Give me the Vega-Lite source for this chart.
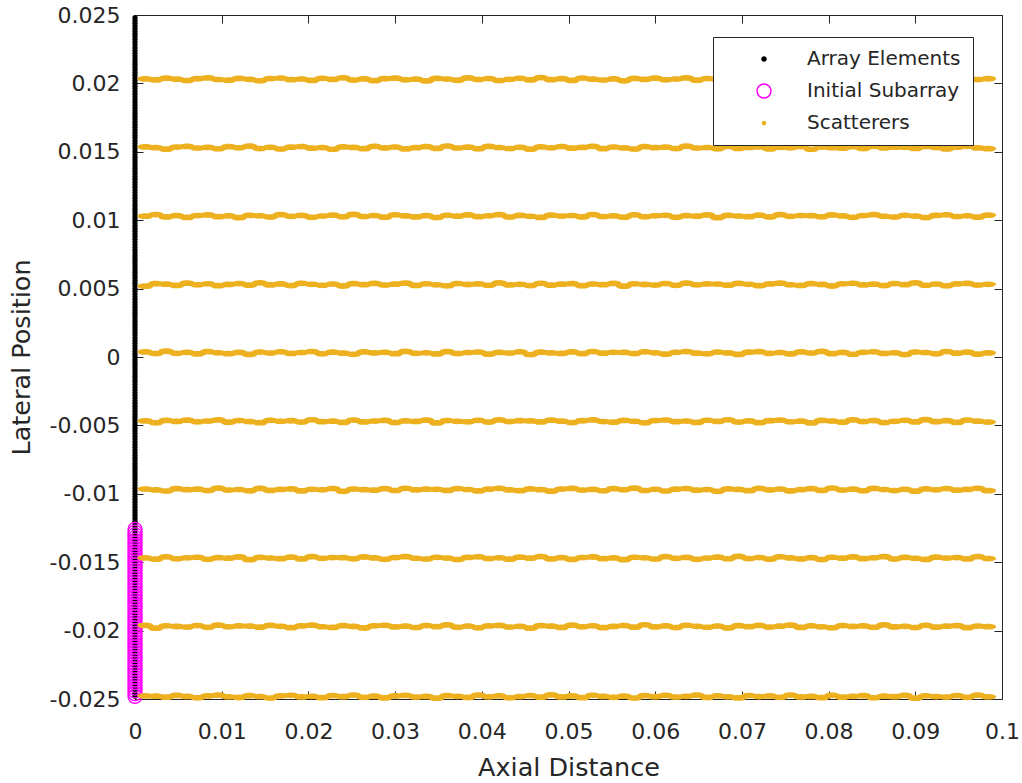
{
"$schema":"https://vega.github.io/schema/vega-lite/v6.json",
"width":867,"height":684,
"autosize":{"type":"none"},
"padding":{"left":135,"top":15,"right":20,"bottom":84},
"background":"white",
"config":{"font":"DejaVu Sans","view":{"stroke":"#262626","strokeWidth":1,"fill":"white"},
"axis":{"grid":false,"domain":false,"tickColor":"#262626","labelColor":"#262626","titleColor":"#262626","labelFont":"DejaVu Sans","titleFont":"DejaVu Sans","labelFontSize":22,"titleFontSize":25.5,"titleFontWeight":"normal","tickSize":-8,"tickWidth":1,"labelFlush":false},
"legend":{"title":null,"orient":"none","legendX":578,"legendY":22,"padding":12,"strokeColor":"#262626","fillColor":"white","labelFont":"DejaVu Sans","labelFontSize":20,"labelColor":"#262626","rowPadding":12,"symbolSize":196,"symbolOffset":29,"labelOffset":33,"symbolStrokeWidth":1.5}},
"datasets":{
"arr":[{"x":0,"y":-0.0248},{"x":0,"y":-0.0246},{"x":0,"y":-0.0244},{"x":0,"y":-0.0242},{"x":0,"y":-0.024},{"x":0,"y":-0.0238},{"x":0,"y":-0.0236},{"x":0,"y":-0.0234},{"x":0,"y":-0.0232},{"x":0,"y":-0.023},{"x":0,"y":-0.0228},{"x":0,"y":-0.0226},{"x":0,"y":-0.0224},{"x":0,"y":-0.0222},{"x":0,"y":-0.022},{"x":0,"y":-0.0218},{"x":0,"y":-0.0216},{"x":0,"y":-0.0214},{"x":0,"y":-0.0212},{"x":0,"y":-0.021},{"x":0,"y":-0.0208},{"x":0,"y":-0.0206},{"x":0,"y":-0.0204},{"x":0,"y":-0.0202},{"x":0,"y":-0.02},{"x":0,"y":-0.0198},{"x":0,"y":-0.0196},{"x":0,"y":-0.0194},{"x":0,"y":-0.0192},{"x":0,"y":-0.019},{"x":0,"y":-0.0188},{"x":0,"y":-0.0186},{"x":0,"y":-0.0184},{"x":0,"y":-0.0182},{"x":0,"y":-0.018},{"x":0,"y":-0.0178},{"x":0,"y":-0.0176},{"x":0,"y":-0.0174},{"x":0,"y":-0.0172},{"x":0,"y":-0.017},{"x":0,"y":-0.0168},{"x":0,"y":-0.0166},{"x":0,"y":-0.0164},{"x":0,"y":-0.0162},{"x":0,"y":-0.016},{"x":0,"y":-0.0158},{"x":0,"y":-0.0156},{"x":0,"y":-0.0154},{"x":0,"y":-0.0152},{"x":0,"y":-0.015},{"x":0,"y":-0.0148},{"x":0,"y":-0.0146},{"x":0,"y":-0.0144},{"x":0,"y":-0.0142},{"x":0,"y":-0.014},{"x":0,"y":-0.0138},{"x":0,"y":-0.0136},{"x":0,"y":-0.0134},{"x":0,"y":-0.0132},{"x":0,"y":-0.013},{"x":0,"y":-0.0128},{"x":0,"y":-0.0126},{"x":0,"y":-0.0124},{"x":0,"y":-0.0122},{"x":0,"y":-0.012},{"x":0,"y":-0.0118},{"x":0,"y":-0.0116},{"x":0,"y":-0.0114},{"x":0,"y":-0.0112},{"x":0,"y":-0.011},{"x":0,"y":-0.0108},{"x":0,"y":-0.0106},{"x":0,"y":-0.0104},{"x":0,"y":-0.0102},{"x":0,"y":-0.01},{"x":0,"y":-0.0098},{"x":0,"y":-0.0096},{"x":0,"y":-0.0094},{"x":0,"y":-0.0092},{"x":0,"y":-0.009},{"x":0,"y":-0.0088},{"x":0,"y":-0.0086},{"x":0,"y":-0.0084},{"x":0,"y":-0.0082},{"x":0,"y":-0.008},{"x":0,"y":-0.0078},{"x":0,"y":-0.0076},{"x":0,"y":-0.0074},{"x":0,"y":-0.0072},{"x":0,"y":-0.007},{"x":0,"y":-0.0068},{"x":0,"y":-0.0066},{"x":0,"y":-0.0064},{"x":0,"y":-0.0062},{"x":0,"y":-0.006},{"x":0,"y":-0.0058},{"x":0,"y":-0.0056},{"x":0,"y":-0.0054},{"x":0,"y":-0.0052},{"x":0,"y":-0.005},{"x":0,"y":-0.0048},{"x":0,"y":-0.0046},{"x":0,"y":-0.0044},{"x":0,"y":-0.0042},{"x":0,"y":-0.004},{"x":0,"y":-0.0038},{"x":0,"y":-0.0036},{"x":0,"y":-0.0034},{"x":0,"y":-0.0032},{"x":0,"y":-0.003},{"x":0,"y":-0.0028},{"x":0,"y":-0.0026},{"x":0,"y":-0.0024},{"x":0,"y":-0.0022},{"x":0,"y":-0.002},{"x":0,"y":-0.0018},{"x":0,"y":-0.0016},{"x":0,"y":-0.0014},{"x":0,"y":-0.0012},{"x":0,"y":-0.001},{"x":0,"y":-0.0008},{"x":0,"y":-0.0006},{"x":0,"y":-0.0004},{"x":0,"y":-0.0002},{"x":0,"y":0},{"x":0,"y":0.0002},{"x":0,"y":0.0004},{"x":0,"y":0.0006},{"x":0,"y":0.0008},{"x":0,"y":0.001},{"x":0,"y":0.0012},{"x":0,"y":0.0014},{"x":0,"y":0.0016},{"x":0,"y":0.0018},{"x":0,"y":0.002},{"x":0,"y":0.0022},{"x":0,"y":0.0024},{"x":0,"y":0.0026},{"x":0,"y":0.0028},{"x":0,"y":0.003},{"x":0,"y":0.0032},{"x":0,"y":0.0034},{"x":0,"y":0.0036},{"x":0,"y":0.0038},{"x":0,"y":0.004},{"x":0,"y":0.0042},{"x":0,"y":0.0044},{"x":0,"y":0.0046},{"x":0,"y":0.0048},{"x":0,"y":0.005},{"x":0,"y":0.0052},{"x":0,"y":0.0054},{"x":0,"y":0.0056},{"x":0,"y":0.0058},{"x":0,"y":0.006},{"x":0,"y":0.0062},{"x":0,"y":0.0064},{"x":0,"y":0.0066},{"x":0,"y":0.0068},{"x":0,"y":0.007},{"x":0,"y":0.0072},{"x":0,"y":0.0074},{"x":0,"y":0.0076},{"x":0,"y":0.0078},{"x":0,"y":0.008},{"x":0,"y":0.0082},{"x":0,"y":0.0084},{"x":0,"y":0.0086},{"x":0,"y":0.0088},{"x":0,"y":0.009},{"x":0,"y":0.0092},{"x":0,"y":0.0094},{"x":0,"y":0.0096},{"x":0,"y":0.0098},{"x":0,"y":0.01},{"x":0,"y":0.0102},{"x":0,"y":0.0104},{"x":0,"y":0.0106},{"x":0,"y":0.0108},{"x":0,"y":0.011},{"x":0,"y":0.0112},{"x":0,"y":0.0114},{"x":0,"y":0.0116},{"x":0,"y":0.0118},{"x":0,"y":0.012},{"x":0,"y":0.0122},{"x":0,"y":0.0124},{"x":0,"y":0.0126},{"x":0,"y":0.0128},{"x":0,"y":0.013},{"x":0,"y":0.0132},{"x":0,"y":0.0134},{"x":0,"y":0.0136},{"x":0,"y":0.0138},{"x":0,"y":0.014},{"x":0,"y":0.0142},{"x":0,"y":0.0144},{"x":0,"y":0.0146},{"x":0,"y":0.0148},{"x":0,"y":0.015},{"x":0,"y":0.0152},{"x":0,"y":0.0154},{"x":0,"y":0.0156},{"x":0,"y":0.0158},{"x":0,"y":0.016},{"x":0,"y":0.0162},{"x":0,"y":0.0164},{"x":0,"y":0.0166},{"x":0,"y":0.0168},{"x":0,"y":0.017},{"x":0,"y":0.0172},{"x":0,"y":0.0174},{"x":0,"y":0.0176},{"x":0,"y":0.0178},{"x":0,"y":0.018},{"x":0,"y":0.0182},{"x":0,"y":0.0184},{"x":0,"y":0.0186},{"x":0,"y":0.0188},{"x":0,"y":0.019},{"x":0,"y":0.0192},{"x":0,"y":0.0194},{"x":0,"y":0.0196},{"x":0,"y":0.0198},{"x":0,"y":0.02},{"x":0,"y":0.0202},{"x":0,"y":0.0204},{"x":0,"y":0.0206},{"x":0,"y":0.0208},{"x":0,"y":0.021},{"x":0,"y":0.0212},{"x":0,"y":0.0214},{"x":0,"y":0.0216},{"x":0,"y":0.0218},{"x":0,"y":0.022},{"x":0,"y":0.0222},{"x":0,"y":0.0224},{"x":0,"y":0.0226},{"x":0,"y":0.0228},{"x":0,"y":0.023},{"x":0,"y":0.0232},{"x":0,"y":0.0234},{"x":0,"y":0.0236},{"x":0,"y":0.0238},{"x":0,"y":0.024},{"x":0,"y":0.0242},{"x":0,"y":0.0244},{"x":0,"y":0.0246},{"x":0,"y":0.0248}],
"sub":[{"x":0,"y":-0.0248},{"x":0,"y":-0.0246},{"x":0,"y":-0.0244},{"x":0,"y":-0.0242},{"x":0,"y":-0.024},{"x":0,"y":-0.0238},{"x":0,"y":-0.0236},{"x":0,"y":-0.0234},{"x":0,"y":-0.0232},{"x":0,"y":-0.023},{"x":0,"y":-0.0228},{"x":0,"y":-0.0226},{"x":0,"y":-0.0224},{"x":0,"y":-0.0222},{"x":0,"y":-0.022},{"x":0,"y":-0.0218},{"x":0,"y":-0.0216},{"x":0,"y":-0.0214},{"x":0,"y":-0.0212},{"x":0,"y":-0.021},{"x":0,"y":-0.0208},{"x":0,"y":-0.0206},{"x":0,"y":-0.0204},{"x":0,"y":-0.0202},{"x":0,"y":-0.02},{"x":0,"y":-0.0198},{"x":0,"y":-0.0196},{"x":0,"y":-0.0194},{"x":0,"y":-0.0192},{"x":0,"y":-0.019},{"x":0,"y":-0.0188},{"x":0,"y":-0.0186},{"x":0,"y":-0.0184},{"x":0,"y":-0.0182},{"x":0,"y":-0.018},{"x":0,"y":-0.0178},{"x":0,"y":-0.0176},{"x":0,"y":-0.0174},{"x":0,"y":-0.0172},{"x":0,"y":-0.017},{"x":0,"y":-0.0168},{"x":0,"y":-0.0166},{"x":0,"y":-0.0164},{"x":0,"y":-0.0162},{"x":0,"y":-0.016},{"x":0,"y":-0.0158},{"x":0,"y":-0.0156},{"x":0,"y":-0.0154},{"x":0,"y":-0.0152},{"x":0,"y":-0.015},{"x":0,"y":-0.0148},{"x":0,"y":-0.0146},{"x":0,"y":-0.0144},{"x":0,"y":-0.0142},{"x":0,"y":-0.014},{"x":0,"y":-0.0138},{"x":0,"y":-0.0136},{"x":0,"y":-0.0134},{"x":0,"y":-0.0132},{"x":0,"y":-0.013},{"x":0,"y":-0.0128},{"x":0,"y":-0.0126}],
"sc":[
{"x":0.0012,"y":0.02033},{"x":0.0024,"y":0.02025},{"x":0.0036,"y":0.02038},{"x":0.0048,"y":0.02031},{"x":0.006,"y":0.02021},{"x":0.0072,"y":0.02034},{"x":0.0084,"y":0.0204},{"x":0.0096,"y":0.02028},{"x":0.0108,"y":0.02023},{"x":0.012,"y":0.02036},
{"x":0.0132,"y":0.0203},{"x":0.0144,"y":0.02019},{"x":0.0156,"y":0.02035},{"x":0.0168,"y":0.02039},{"x":0.018,"y":0.02027},{"x":0.0192,"y":0.02032},{"x":0.0204,"y":0.02022},{"x":0.0216,"y":0.02037},{"x":0.0228,"y":0.02029},{"x":0.024,"y":0.02041},
{"x":0.0252,"y":0.02024},{"x":0.0264,"y":0.02033},{"x":0.0276,"y":0.0202},{"x":0.0288,"y":0.02034},{"x":0.03,"y":0.02038},{"x":0.0312,"y":0.02026},{"x":0.0324,"y":0.02031},{"x":0.0336,"y":0.02018},{"x":0.0348,"y":0.02036},{"x":0.036,"y":0.02032},
{"x":0.0372,"y":0.02023},{"x":0.0384,"y":0.0204},{"x":0.0396,"y":0.02028},{"x":0.0408,"y":0.02035},{"x":0.042,"y":0.02021},{"x":0.0432,"y":0.0203},{"x":0.0444,"y":0.02037},{"x":0.0456,"y":0.02025},{"x":0.0468,"y":0.02042},{"x":0.048,"y":0.02027},
{"x":0.0492,"y":0.02034},{"x":0.0504,"y":0.02022},{"x":0.0516,"y":0.02039},{"x":0.0528,"y":0.02031},{"x":0.054,"y":0.02024},{"x":0.0552,"y":0.02033},{"x":0.0564,"y":0.02019},{"x":0.0576,"y":0.02036},{"x":0.0588,"y":0.02029},{"x":0.06,"y":0.02038},
{"x":0.0612,"y":0.02026},{"x":0.0624,"y":0.02032},{"x":0.0636,"y":0.0204},{"x":0.0648,"y":0.02023},{"x":0.066,"y":0.02035},{"x":0.0672,"y":0.02028},{"x":0.0684,"y":0.0202},{"x":0.0696,"y":0.02037},{"x":0.0708,"y":0.0203},{"x":0.072,"y":0.02034},
{"x":0.0732,"y":0.02024},{"x":0.0744,"y":0.02041},{"x":0.0756,"y":0.02027},{"x":0.0768,"y":0.02031},{"x":0.078,"y":0.02022},{"x":0.0792,"y":0.02039},{"x":0.0804,"y":0.02025},{"x":0.0816,"y":0.02032},{"x":0.0828,"y":0.02036},{"x":0.084,"y":0.02021},
{"x":0.0852,"y":0.02033},{"x":0.0864,"y":0.02029},{"x":0.0876,"y":0.02038},{"x":0.0888,"y":0.02018},{"x":0.09,"y":0.02035},{"x":0.0912,"y":0.0203},{"x":0.0924,"y":0.02026},{"x":0.0936,"y":0.02037},{"x":0.0948,"y":0.02024},{"x":0.096,"y":0.0204},
{"x":0.0972,"y":0.02028},{"x":0.0984,"y":0.02034},
{"x":0.0012,"y":0.01536},{"x":0.0024,"y":0.0153},{"x":0.0036,"y":0.01519},{"x":0.0048,"y":0.01535},{"x":0.006,"y":0.01539},{"x":0.0072,"y":0.01527},{"x":0.0084,"y":0.01532},{"x":0.0096,"y":0.01522},{"x":0.0108,"y":0.01537},{"x":0.012,"y":0.01529},
{"x":0.0132,"y":0.01541},{"x":0.0144,"y":0.01524},{"x":0.0156,"y":0.01533},{"x":0.0168,"y":0.0152},{"x":0.018,"y":0.01534},{"x":0.0192,"y":0.01538},{"x":0.0204,"y":0.01526},{"x":0.0216,"y":0.01531},{"x":0.0228,"y":0.01518},{"x":0.024,"y":0.01536},
{"x":0.0252,"y":0.01532},{"x":0.0264,"y":0.01523},{"x":0.0276,"y":0.0154},{"x":0.0288,"y":0.01528},{"x":0.03,"y":0.01535},{"x":0.0312,"y":0.01521},{"x":0.0324,"y":0.0153},{"x":0.0336,"y":0.01537},{"x":0.0348,"y":0.01525},{"x":0.036,"y":0.01542},
{"x":0.0372,"y":0.01527},{"x":0.0384,"y":0.01534},{"x":0.0396,"y":0.01522},{"x":0.0408,"y":0.01539},{"x":0.042,"y":0.01531},{"x":0.0432,"y":0.01524},{"x":0.0444,"y":0.01533},{"x":0.0456,"y":0.01519},{"x":0.0468,"y":0.01536},{"x":0.048,"y":0.01529},
{"x":0.0492,"y":0.01538},{"x":0.0504,"y":0.01526},{"x":0.0516,"y":0.01532},{"x":0.0528,"y":0.0154},{"x":0.054,"y":0.01523},{"x":0.0552,"y":0.01535},{"x":0.0564,"y":0.01528},{"x":0.0576,"y":0.0152},{"x":0.0588,"y":0.01537},{"x":0.06,"y":0.0153},
{"x":0.0612,"y":0.01534},{"x":0.0624,"y":0.01524},{"x":0.0636,"y":0.01541},{"x":0.0648,"y":0.01527},{"x":0.066,"y":0.01531},{"x":0.0672,"y":0.01522},{"x":0.0684,"y":0.01539},{"x":0.0696,"y":0.01525},{"x":0.0708,"y":0.01532},{"x":0.072,"y":0.01536},
{"x":0.0732,"y":0.01521},{"x":0.0744,"y":0.01533},{"x":0.0756,"y":0.01529},{"x":0.0768,"y":0.01538},{"x":0.078,"y":0.01518},{"x":0.0792,"y":0.01535},{"x":0.0804,"y":0.0153},{"x":0.0816,"y":0.01526},{"x":0.0828,"y":0.01537},{"x":0.084,"y":0.01524},
{"x":0.0852,"y":0.0154},{"x":0.0864,"y":0.01528},{"x":0.0876,"y":0.01534},{"x":0.0888,"y":0.01533},{"x":0.09,"y":0.01525},{"x":0.0912,"y":0.01538},{"x":0.0924,"y":0.01531},{"x":0.0936,"y":0.01521},{"x":0.0948,"y":0.01534},{"x":0.096,"y":0.0154},
{"x":0.0972,"y":0.01528},{"x":0.0984,"y":0.01523},
{"x":0.0012,"y":0.01029},{"x":0.0024,"y":0.01041},{"x":0.0036,"y":0.01024},{"x":0.0048,"y":0.01033},{"x":0.006,"y":0.0102},{"x":0.0072,"y":0.01034},{"x":0.0084,"y":0.01038},{"x":0.0096,"y":0.01026},{"x":0.0108,"y":0.01031},{"x":0.012,"y":0.01018},
{"x":0.0132,"y":0.01036},{"x":0.0144,"y":0.01032},{"x":0.0156,"y":0.01023},{"x":0.0168,"y":0.0104},{"x":0.018,"y":0.01028},{"x":0.0192,"y":0.01035},{"x":0.0204,"y":0.01021},{"x":0.0216,"y":0.0103},{"x":0.0228,"y":0.01037},{"x":0.024,"y":0.01025},
{"x":0.0252,"y":0.01042},{"x":0.0264,"y":0.01027},{"x":0.0276,"y":0.01034},{"x":0.0288,"y":0.01022},{"x":0.03,"y":0.01039},{"x":0.0312,"y":0.01031},{"x":0.0324,"y":0.01024},{"x":0.0336,"y":0.01033},{"x":0.0348,"y":0.01019},{"x":0.036,"y":0.01036},
{"x":0.0372,"y":0.01029},{"x":0.0384,"y":0.01038},{"x":0.0396,"y":0.01026},{"x":0.0408,"y":0.01032},{"x":0.042,"y":0.0104},{"x":0.0432,"y":0.01023},{"x":0.0444,"y":0.01035},{"x":0.0456,"y":0.01028},{"x":0.0468,"y":0.0102},{"x":0.048,"y":0.01037},
{"x":0.0492,"y":0.0103},{"x":0.0504,"y":0.01034},{"x":0.0516,"y":0.01024},{"x":0.0528,"y":0.01041},{"x":0.054,"y":0.01027},{"x":0.0552,"y":0.01031},{"x":0.0564,"y":0.01022},{"x":0.0576,"y":0.01039},{"x":0.0588,"y":0.01025},{"x":0.06,"y":0.01032},
{"x":0.0612,"y":0.01036},{"x":0.0624,"y":0.01021},{"x":0.0636,"y":0.01033},{"x":0.0648,"y":0.01029},{"x":0.066,"y":0.01038},{"x":0.0672,"y":0.01018},{"x":0.0684,"y":0.01035},{"x":0.0696,"y":0.0103},{"x":0.0708,"y":0.01026},{"x":0.072,"y":0.01037},
{"x":0.0732,"y":0.01024},{"x":0.0744,"y":0.0104},{"x":0.0756,"y":0.01028},{"x":0.0768,"y":0.01034},{"x":0.078,"y":0.01033},{"x":0.0792,"y":0.01025},{"x":0.0804,"y":0.01038},{"x":0.0816,"y":0.01031},{"x":0.0828,"y":0.01021},{"x":0.084,"y":0.01034},
{"x":0.0852,"y":0.0104},{"x":0.0864,"y":0.01028},{"x":0.0876,"y":0.01023},{"x":0.0888,"y":0.01036},{"x":0.09,"y":0.0103},{"x":0.0912,"y":0.01019},{"x":0.0924,"y":0.01035},{"x":0.0936,"y":0.01039},{"x":0.0948,"y":0.01027},{"x":0.096,"y":0.01032},
{"x":0.0972,"y":0.01022},{"x":0.0984,"y":0.01037},
{"x":0.0012,"y":0.00518},{"x":0.0024,"y":0.00536},{"x":0.0036,"y":0.00532},{"x":0.0048,"y":0.00523},{"x":0.006,"y":0.0054},{"x":0.0072,"y":0.00528},{"x":0.0084,"y":0.00535},{"x":0.0096,"y":0.00521},{"x":0.0108,"y":0.0053},{"x":0.012,"y":0.00537},
{"x":0.0132,"y":0.00525},{"x":0.0144,"y":0.00542},{"x":0.0156,"y":0.00527},{"x":0.0168,"y":0.00534},{"x":0.018,"y":0.00522},{"x":0.0192,"y":0.00539},{"x":0.0204,"y":0.00531},{"x":0.0216,"y":0.00524},{"x":0.0228,"y":0.00533},{"x":0.024,"y":0.00519},
{"x":0.0252,"y":0.00536},{"x":0.0264,"y":0.00529},{"x":0.0276,"y":0.00538},{"x":0.0288,"y":0.00526},{"x":0.03,"y":0.00532},{"x":0.0312,"y":0.0054},{"x":0.0324,"y":0.00523},{"x":0.0336,"y":0.00535},{"x":0.0348,"y":0.00528},{"x":0.036,"y":0.0052},
{"x":0.0372,"y":0.00537},{"x":0.0384,"y":0.0053},{"x":0.0396,"y":0.00534},{"x":0.0408,"y":0.00524},{"x":0.042,"y":0.00541},{"x":0.0432,"y":0.00527},{"x":0.0444,"y":0.00531},{"x":0.0456,"y":0.00522},{"x":0.0468,"y":0.00539},{"x":0.048,"y":0.00525},
{"x":0.0492,"y":0.00532},{"x":0.0504,"y":0.00536},{"x":0.0516,"y":0.00521},{"x":0.0528,"y":0.00533},{"x":0.054,"y":0.00529},{"x":0.0552,"y":0.00538},{"x":0.0564,"y":0.00518},{"x":0.0576,"y":0.00535},{"x":0.0588,"y":0.0053},{"x":0.06,"y":0.00526},
{"x":0.0612,"y":0.00537},{"x":0.0624,"y":0.00524},{"x":0.0636,"y":0.0054},{"x":0.0648,"y":0.00528},{"x":0.066,"y":0.00534},{"x":0.0672,"y":0.00533},{"x":0.0684,"y":0.00525},{"x":0.0696,"y":0.00538},{"x":0.0708,"y":0.00531},{"x":0.072,"y":0.00521},
{"x":0.0732,"y":0.00534},{"x":0.0744,"y":0.0054},{"x":0.0756,"y":0.00528},{"x":0.0768,"y":0.00523},{"x":0.078,"y":0.00536},{"x":0.0792,"y":0.0053},{"x":0.0804,"y":0.00519},{"x":0.0816,"y":0.00535},{"x":0.0828,"y":0.00539},{"x":0.084,"y":0.00527},
{"x":0.0852,"y":0.00532},{"x":0.0864,"y":0.00522},{"x":0.0876,"y":0.00537},{"x":0.0888,"y":0.00529},{"x":0.09,"y":0.00541},{"x":0.0912,"y":0.00524},{"x":0.0924,"y":0.00533},{"x":0.0936,"y":0.0052},{"x":0.0948,"y":0.00534},{"x":0.096,"y":0.00538},
{"x":0.0972,"y":0.00526},{"x":0.0984,"y":0.00531},
{"x":0.0012,"y":0.00037},{"x":0.0024,"y":0.00025},{"x":0.0036,"y":0.00042},{"x":0.0048,"y":0.00027},{"x":0.006,"y":0.00034},{"x":0.0072,"y":0.00022},{"x":0.0084,"y":0.00039},{"x":0.0096,"y":0.00031},{"x":0.0108,"y":0.00024},{"x":0.012,"y":0.00033},
{"x":0.0132,"y":0.00019},{"x":0.0144,"y":0.00036},{"x":0.0156,"y":0.00029},{"x":0.0168,"y":0.00038},{"x":0.018,"y":0.00026},{"x":0.0192,"y":0.00032},{"x":0.0204,"y":0.0004},{"x":0.0216,"y":0.00023},{"x":0.0228,"y":0.00035},{"x":0.024,"y":0.00028},
{"x":0.0252,"y":0.0002},{"x":0.0264,"y":0.00037},{"x":0.0276,"y":0.0003},{"x":0.0288,"y":0.00034},{"x":0.03,"y":0.00024},{"x":0.0312,"y":0.00041},{"x":0.0324,"y":0.00027},{"x":0.0336,"y":0.00031},{"x":0.0348,"y":0.00022},{"x":0.036,"y":0.00039},
{"x":0.0372,"y":0.00025},{"x":0.0384,"y":0.00032},{"x":0.0396,"y":0.00036},{"x":0.0408,"y":0.00021},{"x":0.042,"y":0.00033},{"x":0.0432,"y":0.00029},{"x":0.0444,"y":0.00038},{"x":0.0456,"y":0.00018},{"x":0.0468,"y":0.00035},{"x":0.048,"y":0.0003},
{"x":0.0492,"y":0.00026},{"x":0.0504,"y":0.00037},{"x":0.0516,"y":0.00024},{"x":0.0528,"y":0.0004},{"x":0.054,"y":0.00028},{"x":0.0552,"y":0.00034},{"x":0.0564,"y":0.00033},{"x":0.0576,"y":0.00025},{"x":0.0588,"y":0.00038},{"x":0.06,"y":0.00031},
{"x":0.0612,"y":0.00021},{"x":0.0624,"y":0.00034},{"x":0.0636,"y":0.0004},{"x":0.0648,"y":0.00028},{"x":0.066,"y":0.00023},{"x":0.0672,"y":0.00036},{"x":0.0684,"y":0.0003},{"x":0.0696,"y":0.00019},{"x":0.0708,"y":0.00035},{"x":0.072,"y":0.00039},
{"x":0.0732,"y":0.00027},{"x":0.0744,"y":0.00032},{"x":0.0756,"y":0.00022},{"x":0.0768,"y":0.00037},{"x":0.078,"y":0.00029},{"x":0.0792,"y":0.00041},{"x":0.0804,"y":0.00024},{"x":0.0816,"y":0.00033},{"x":0.0828,"y":0.0002},{"x":0.084,"y":0.00034},
{"x":0.0852,"y":0.00038},{"x":0.0864,"y":0.00026},{"x":0.0876,"y":0.00031},{"x":0.0888,"y":0.00018},{"x":0.09,"y":0.00036},{"x":0.0912,"y":0.00032},{"x":0.0924,"y":0.00023},{"x":0.0936,"y":0.0004},{"x":0.0948,"y":0.00028},{"x":0.096,"y":0.00035},
{"x":0.0972,"y":0.00021},{"x":0.0984,"y":0.0003},
{"x":0.0012,"y":-0.00467},{"x":0.0024,"y":-0.00481},{"x":0.0036,"y":-0.00464},{"x":0.0048,"y":-0.00471},{"x":0.006,"y":-0.00462},{"x":0.0072,"y":-0.00474},{"x":0.0084,"y":-0.00468},{"x":0.0096,"y":-0.0046},{"x":0.0108,"y":-0.00477},{"x":0.012,"y":-0.00465},
{"x":0.0132,"y":-0.00472},{"x":0.0144,"y":-0.0048},{"x":0.0156,"y":-0.00463},{"x":0.0168,"y":-0.0047},{"x":0.018,"y":-0.00466},{"x":0.0192,"y":-0.00476},{"x":0.0204,"y":-0.00459},{"x":0.0216,"y":-0.00473},{"x":0.0228,"y":-0.00469},{"x":0.024,"y":-0.00478},
{"x":0.0252,"y":-0.00461},{"x":0.0264,"y":-0.00475},{"x":0.0276,"y":-0.00468},{"x":0.0288,"y":-0.00464},{"x":0.03,"y":-0.00479},{"x":0.0312,"y":-0.00467},{"x":0.0324,"y":-0.00471},{"x":0.0336,"y":-0.00462},{"x":0.0348,"y":-0.00482},{"x":0.036,"y":-0.00465},
{"x":0.0372,"y":-0.0047},{"x":0.0384,"y":-0.00474},{"x":0.0396,"y":-0.00463},{"x":0.0408,"y":-0.00476},{"x":0.042,"y":-0.0046},{"x":0.0432,"y":-0.00472},{"x":0.0444,"y":-0.00466},{"x":0.0456,"y":-0.00467},{"x":0.0468,"y":-0.00475},{"x":0.048,"y":-0.00462},
{"x":0.0492,"y":-0.00469},{"x":0.0504,"y":-0.00479},{"x":0.0516,"y":-0.00466},{"x":0.0528,"y":-0.0046},{"x":0.054,"y":-0.00472},{"x":0.0552,"y":-0.00477},{"x":0.0564,"y":-0.00464},{"x":0.0576,"y":-0.0047},{"x":0.0588,"y":-0.00481},{"x":0.06,"y":-0.00465},
{"x":0.0612,"y":-0.00461},{"x":0.0624,"y":-0.00473},{"x":0.0636,"y":-0.00468},{"x":0.0648,"y":-0.00478},{"x":0.066,"y":-0.00463},{"x":0.0672,"y":-0.00471},{"x":0.0684,"y":-0.00459},{"x":0.0696,"y":-0.00476},{"x":0.0708,"y":-0.00467},{"x":0.072,"y":-0.0048},
{"x":0.0732,"y":-0.00466},{"x":0.0744,"y":-0.00462},{"x":0.0756,"y":-0.00474},{"x":0.0768,"y":-0.00469},{"x":0.078,"y":-0.00482},{"x":0.0792,"y":-0.00464},{"x":0.0804,"y":-0.00468},{"x":0.0816,"y":-0.00477},{"x":0.0828,"y":-0.0046},{"x":0.084,"y":-0.00472},
{"x":0.0852,"y":-0.00465},{"x":0.0864,"y":-0.00479},{"x":0.0876,"y":-0.0047},{"x":0.0888,"y":-0.00463},{"x":0.09,"y":-0.00475},{"x":0.0912,"y":-0.00458},{"x":0.0924,"y":-0.00473},{"x":0.0936,"y":-0.00466},{"x":0.0948,"y":-0.00478},{"x":0.096,"y":-0.00461},
{"x":0.0972,"y":-0.00469},{"x":0.0984,"y":-0.00476},
{"x":0.0012,"y":-0.00965},{"x":0.0024,"y":-0.00972},{"x":0.0036,"y":-0.0098},{"x":0.0048,"y":-0.00963},{"x":0.006,"y":-0.0097},{"x":0.0072,"y":-0.00966},{"x":0.0084,"y":-0.00976},{"x":0.0096,"y":-0.00959},{"x":0.0108,"y":-0.00973},{"x":0.012,"y":-0.00969},
{"x":0.0132,"y":-0.00978},{"x":0.0144,"y":-0.00961},{"x":0.0156,"y":-0.00975},{"x":0.0168,"y":-0.00968},{"x":0.018,"y":-0.00964},{"x":0.0192,"y":-0.00979},{"x":0.0204,"y":-0.00967},{"x":0.0216,"y":-0.00971},{"x":0.0228,"y":-0.00962},{"x":0.024,"y":-0.00982},
{"x":0.0252,"y":-0.00965},{"x":0.0264,"y":-0.0097},{"x":0.0276,"y":-0.00974},{"x":0.0288,"y":-0.00963},{"x":0.03,"y":-0.00976},{"x":0.0312,"y":-0.0096},{"x":0.0324,"y":-0.00972},{"x":0.0336,"y":-0.00966},{"x":0.0348,"y":-0.00967},{"x":0.036,"y":-0.00975},
{"x":0.0372,"y":-0.00962},{"x":0.0384,"y":-0.00969},{"x":0.0396,"y":-0.00979},{"x":0.0408,"y":-0.00966},{"x":0.042,"y":-0.0096},{"x":0.0432,"y":-0.00972},{"x":0.0444,"y":-0.00977},{"x":0.0456,"y":-0.00964},{"x":0.0468,"y":-0.0097},{"x":0.048,"y":-0.00981},
{"x":0.0492,"y":-0.00965},{"x":0.0504,"y":-0.00961},{"x":0.0516,"y":-0.00973},{"x":0.0528,"y":-0.00968},{"x":0.054,"y":-0.00978},{"x":0.0552,"y":-0.00963},{"x":0.0564,"y":-0.00971},{"x":0.0576,"y":-0.00959},{"x":0.0588,"y":-0.00976},{"x":0.06,"y":-0.00967},
{"x":0.0612,"y":-0.0098},{"x":0.0624,"y":-0.00966},{"x":0.0636,"y":-0.00962},{"x":0.0648,"y":-0.00974},{"x":0.066,"y":-0.00969},{"x":0.0672,"y":-0.00982},{"x":0.0684,"y":-0.00964},{"x":0.0696,"y":-0.00968},{"x":0.0708,"y":-0.00977},{"x":0.072,"y":-0.0096},
{"x":0.0732,"y":-0.00972},{"x":0.0744,"y":-0.00965},{"x":0.0756,"y":-0.00979},{"x":0.0768,"y":-0.0097},{"x":0.078,"y":-0.00963},{"x":0.0792,"y":-0.00975},{"x":0.0804,"y":-0.00958},{"x":0.0816,"y":-0.00973},{"x":0.0828,"y":-0.00966},{"x":0.084,"y":-0.00978},
{"x":0.0852,"y":-0.00961},{"x":0.0864,"y":-0.00969},{"x":0.0876,"y":-0.00976},{"x":0.0888,"y":-0.00967},{"x":0.09,"y":-0.00981},{"x":0.0912,"y":-0.00964},{"x":0.0924,"y":-0.00971},{"x":0.0936,"y":-0.00962},{"x":0.0948,"y":-0.00974},{"x":0.096,"y":-0.00968},
{"x":0.0972,"y":-0.0096},{"x":0.0984,"y":-0.00977},
{"x":0.0012,"y":-0.01469},{"x":0.0024,"y":-0.01478},{"x":0.0036,"y":-0.01461},{"x":0.0048,"y":-0.01475},{"x":0.006,"y":-0.01468},{"x":0.0072,"y":-0.01464},{"x":0.0084,"y":-0.01479},{"x":0.0096,"y":-0.01467},{"x":0.0108,"y":-0.01471},{"x":0.012,"y":-0.01462},
{"x":0.0132,"y":-0.01482},{"x":0.0144,"y":-0.01465},{"x":0.0156,"y":-0.0147},{"x":0.0168,"y":-0.01474},{"x":0.018,"y":-0.01463},{"x":0.0192,"y":-0.01476},{"x":0.0204,"y":-0.0146},{"x":0.0216,"y":-0.01472},{"x":0.0228,"y":-0.01466},{"x":0.024,"y":-0.01467},
{"x":0.0252,"y":-0.01475},{"x":0.0264,"y":-0.01462},{"x":0.0276,"y":-0.01469},{"x":0.0288,"y":-0.01479},{"x":0.03,"y":-0.01466},{"x":0.0312,"y":-0.0146},{"x":0.0324,"y":-0.01472},{"x":0.0336,"y":-0.01477},{"x":0.0348,"y":-0.01464},{"x":0.036,"y":-0.0147},
{"x":0.0372,"y":-0.01481},{"x":0.0384,"y":-0.01465},{"x":0.0396,"y":-0.01461},{"x":0.0408,"y":-0.01473},{"x":0.042,"y":-0.01468},{"x":0.0432,"y":-0.01478},{"x":0.0444,"y":-0.01463},{"x":0.0456,"y":-0.01471},{"x":0.0468,"y":-0.01459},{"x":0.048,"y":-0.01476},
{"x":0.0492,"y":-0.01467},{"x":0.0504,"y":-0.0148},{"x":0.0516,"y":-0.01466},{"x":0.0528,"y":-0.01462},{"x":0.054,"y":-0.01474},{"x":0.0552,"y":-0.01469},{"x":0.0564,"y":-0.01482},{"x":0.0576,"y":-0.01464},{"x":0.0588,"y":-0.01468},{"x":0.06,"y":-0.01477},
{"x":0.0612,"y":-0.0146},{"x":0.0624,"y":-0.01472},{"x":0.0636,"y":-0.01465},{"x":0.0648,"y":-0.01479},{"x":0.066,"y":-0.0147},{"x":0.0672,"y":-0.01463},{"x":0.0684,"y":-0.01475},{"x":0.0696,"y":-0.01458},{"x":0.0708,"y":-0.01473},{"x":0.072,"y":-0.01466},
{"x":0.0732,"y":-0.01478},{"x":0.0744,"y":-0.01461},{"x":0.0756,"y":-0.01469},{"x":0.0768,"y":-0.01476},{"x":0.078,"y":-0.01467},{"x":0.0792,"y":-0.01481},{"x":0.0804,"y":-0.01464},{"x":0.0816,"y":-0.01471},{"x":0.0828,"y":-0.01462},{"x":0.084,"y":-0.01474},
{"x":0.0852,"y":-0.01468},{"x":0.0864,"y":-0.0146},{"x":0.0876,"y":-0.01477},{"x":0.0888,"y":-0.01465},{"x":0.09,"y":-0.01472},{"x":0.0912,"y":-0.0148},{"x":0.0924,"y":-0.01463},{"x":0.0936,"y":-0.0147},{"x":0.0948,"y":-0.01466},{"x":0.096,"y":-0.01476},
{"x":0.0972,"y":-0.01459},{"x":0.0984,"y":-0.01473},
{"x":0.0012,"y":-0.01962},{"x":0.0024,"y":-0.01982},{"x":0.0036,"y":-0.01965},{"x":0.0048,"y":-0.0197},{"x":0.006,"y":-0.01974},{"x":0.0072,"y":-0.01963},{"x":0.0084,"y":-0.01976},{"x":0.0096,"y":-0.0196},{"x":0.0108,"y":-0.01972},{"x":0.012,"y":-0.01966},
{"x":0.0132,"y":-0.01967},{"x":0.0144,"y":-0.01975},{"x":0.0156,"y":-0.01962},{"x":0.0168,"y":-0.01969},{"x":0.018,"y":-0.01979},{"x":0.0192,"y":-0.01966},{"x":0.0204,"y":-0.0196},{"x":0.0216,"y":-0.01972},{"x":0.0228,"y":-0.01977},{"x":0.024,"y":-0.01964},
{"x":0.0252,"y":-0.0197},{"x":0.0264,"y":-0.01981},{"x":0.0276,"y":-0.01965},{"x":0.0288,"y":-0.01961},{"x":0.03,"y":-0.01973},{"x":0.0312,"y":-0.01968},{"x":0.0324,"y":-0.01978},{"x":0.0336,"y":-0.01963},{"x":0.0348,"y":-0.01971},{"x":0.036,"y":-0.01959},
{"x":0.0372,"y":-0.01976},{"x":0.0384,"y":-0.01967},{"x":0.0396,"y":-0.0198},{"x":0.0408,"y":-0.01966},{"x":0.042,"y":-0.01962},{"x":0.0432,"y":-0.01974},{"x":0.0444,"y":-0.01969},{"x":0.0456,"y":-0.01982},{"x":0.0468,"y":-0.01964},{"x":0.048,"y":-0.01968},
{"x":0.0492,"y":-0.01977},{"x":0.0504,"y":-0.0196},{"x":0.0516,"y":-0.01972},{"x":0.0528,"y":-0.01965},{"x":0.054,"y":-0.01979},{"x":0.0552,"y":-0.0197},{"x":0.0564,"y":-0.01963},{"x":0.0576,"y":-0.01975},{"x":0.0588,"y":-0.01958},{"x":0.06,"y":-0.01973},
{"x":0.0612,"y":-0.01966},{"x":0.0624,"y":-0.01978},{"x":0.0636,"y":-0.01961},{"x":0.0648,"y":-0.01969},{"x":0.066,"y":-0.01976},{"x":0.0672,"y":-0.01967},{"x":0.0684,"y":-0.01981},{"x":0.0696,"y":-0.01964},{"x":0.0708,"y":-0.01971},{"x":0.072,"y":-0.01962},
{"x":0.0732,"y":-0.01974},{"x":0.0744,"y":-0.01968},{"x":0.0756,"y":-0.0196},{"x":0.0768,"y":-0.01977},{"x":0.078,"y":-0.01965},{"x":0.0792,"y":-0.01972},{"x":0.0804,"y":-0.0198},{"x":0.0816,"y":-0.01963},{"x":0.0828,"y":-0.0197},{"x":0.084,"y":-0.01966},
{"x":0.0852,"y":-0.01976},{"x":0.0864,"y":-0.01959},{"x":0.0876,"y":-0.01973},{"x":0.0888,"y":-0.01969},{"x":0.09,"y":-0.01978},{"x":0.0912,"y":-0.01961},{"x":0.0924,"y":-0.01975},{"x":0.0936,"y":-0.01968},{"x":0.0948,"y":-0.01964},{"x":0.096,"y":-0.01979},
{"x":0.0972,"y":-0.01967},{"x":0.0984,"y":-0.01971},
{"x":0.0012,"y":-0.02478},{"x":0.0024,"y":-0.02479},{"x":0.0036,"y":-0.02487},{"x":0.0048,"y":-0.02474},{"x":0.006,"y":-0.02481},{"x":0.0072,"y":-0.02491},{"x":0.0084,"y":-0.02478},{"x":0.0096,"y":-0.02472},{"x":0.0108,"y":-0.02484},{"x":0.012,"y":-0.02489},
{"x":0.0132,"y":-0.02476},{"x":0.0144,"y":-0.02482},{"x":0.0156,"y":-0.02493},{"x":0.0168,"y":-0.02477},{"x":0.018,"y":-0.02473},{"x":0.0192,"y":-0.02485},{"x":0.0204,"y":-0.0248},{"x":0.0216,"y":-0.0249},{"x":0.0228,"y":-0.02475},{"x":0.024,"y":-0.02483},
{"x":0.0252,"y":-0.02471},{"x":0.0264,"y":-0.02488},{"x":0.0276,"y":-0.02479},{"x":0.0288,"y":-0.02492},{"x":0.03,"y":-0.02478},{"x":0.0312,"y":-0.02474},{"x":0.0324,"y":-0.02486},{"x":0.0336,"y":-0.02481},{"x":0.0348,"y":-0.02494},{"x":0.036,"y":-0.02476},
{"x":0.0372,"y":-0.0248},{"x":0.0384,"y":-0.02489},{"x":0.0396,"y":-0.02472},{"x":0.0408,"y":-0.02484},{"x":0.042,"y":-0.02477},{"x":0.0432,"y":-0.02491},{"x":0.0444,"y":-0.02482},{"x":0.0456,"y":-0.02475},{"x":0.0468,"y":-0.02487},{"x":0.048,"y":-0.0247},
{"x":0.0492,"y":-0.02485},{"x":0.0504,"y":-0.02478},{"x":0.0516,"y":-0.0249},{"x":0.0528,"y":-0.02473},{"x":0.054,"y":-0.02481},{"x":0.0552,"y":-0.02488},{"x":0.0564,"y":-0.02479},{"x":0.0576,"y":-0.02493},{"x":0.0588,"y":-0.02476},{"x":0.06,"y":-0.02483},
{"x":0.0612,"y":-0.02474},{"x":0.0624,"y":-0.02486},{"x":0.0636,"y":-0.0248},{"x":0.0648,"y":-0.02472},{"x":0.066,"y":-0.02489},{"x":0.0672,"y":-0.02477},{"x":0.0684,"y":-0.02484},{"x":0.0696,"y":-0.02492},{"x":0.0708,"y":-0.02475},{"x":0.072,"y":-0.02482},
{"x":0.0732,"y":-0.02478},{"x":0.0744,"y":-0.02488},{"x":0.0756,"y":-0.02471},{"x":0.0768,"y":-0.02485},{"x":0.078,"y":-0.02481},{"x":0.0792,"y":-0.0249},{"x":0.0804,"y":-0.02473},{"x":0.0816,"y":-0.02487},{"x":0.0828,"y":-0.0248},{"x":0.084,"y":-0.02476},
{"x":0.0852,"y":-0.02491},{"x":0.0864,"y":-0.02479},{"x":0.0876,"y":-0.02483},{"x":0.0888,"y":-0.02474},{"x":0.09,"y":-0.02494},{"x":0.0912,"y":-0.02477},{"x":0.0924,"y":-0.02482},{"x":0.0936,"y":-0.02486},{"x":0.0948,"y":-0.02475},{"x":0.096,"y":-0.02488},
{"x":0.0972,"y":-0.02472},{"x":0.0984,"y":-0.02484}
]},
"layer":[
{"data":{"name":"arr"},
 "mark":{"type":"point","size":175,"strokeWidth":1.5,"opacity":1},
 "encoding":{
  "x":{"field":"x","type":"quantitative","scale":{"domain":[0,0.1],"nice":false,"zero":false},
       "axis":{"orient":"bottom","title":"Axial Distance","values":[0,0.01,0.02,0.03,0.04,0.05,0.06,0.07,0.08,0.09,0.1],"labelExpr":"replace(format(datum.value,'~g'),'−','-')","labelPadding":30,"titlePadding":13}},
  "y":{"field":"y","type":"quantitative","scale":{"domain":[-0.025,0.025],"nice":false,"zero":false},
       "axis":{"orient":"left","title":"Lateral Position","values":[-0.025,-0.02,-0.015,-0.01,-0.005,0,0.005,0.01,0.015,0.02,0.025],"labelExpr":"replace(format(datum.value,'~g'),'−','-')","labelPadding":23,"titlePadding":15}},
  "fill":{"datum":"Array Elements","type":"nominal","scale":{"domain":["Array Elements","Initial Subarray","Scatterers"],"range":["#000000","transparent","#EDB120"]},"legend":{"title":null,"orient":"none","legendX":578,"legendY":22}},
  "stroke":{"datum":"Array Elements","type":"nominal","scale":{"domain":["Array Elements","Initial Subarray","Scatterers"],"range":["transparent","#FF00FF","transparent"]},"legend":{"title":null,"orient":"none","legendX":578,"legendY":22}},
  "shape":{"datum":"Array Elements","type":"nominal","scale":{"domain":["Array Elements","Initial Subarray","Scatterers"],"range":["M -0.4 0 A 0.4 0.4 0 1 0 0.4 0 A 0.4 0.4 0 1 0 -0.4 0 Z","M -1 0 A 1 1 0 1 0 1 0 A 1 1 0 1 0 -1 0 Z","M -0.33 0 A 0.33 0.33 0 1 0 0.33 0 A 0.33 0.33 0 1 0 -0.33 0 Z"]},"legend":{"title":null,"orient":"none","legendX":578,"legendY":22}}
 }},
{"data":{"name":"sub"},
 "mark":{"type":"point","size":196,"strokeWidth":1.3,"opacity":1},
 "encoding":{
  "x":{"field":"x","type":"quantitative","axis":{"orient":"top","title":null,"labels":false,"values":[0,0.01,0.02,0.03,0.04,0.05,0.06,0.07,0.08,0.09,0.1]}},
  "y":{"field":"y","type":"quantitative","axis":{"orient":"right","title":null,"labels":false,"values":[-0.025,-0.02,-0.015,-0.01,-0.005,0,0.005,0.01,0.015,0.02,0.025]}},
  "fill":{"datum":"Initial Subarray","type":"nominal"},
  "stroke":{"datum":"Initial Subarray","type":"nominal"},
  "shape":{"datum":"Initial Subarray","type":"nominal"}
 }},
{"data":{"name":"sc"},
 "mark":{"type":"point","strokeWidth":0,"shape":"M -1 0 A 1 0.36 0 1 0 1 0 A 1 0.36 0 1 0 -1 0 Z","size":256,"opacity":1},
 "encoding":{
  "x":{"field":"x","type":"quantitative","axis":null},
  "y":{"field":"y","type":"quantitative","axis":null},
  "fill":{"datum":"Scatterers","type":"nominal"},
  "stroke":{"datum":"Scatterers","type":"nominal"}
 }}
],
"resolve":{"axis":{"x":"independent","y":"independent"}}
}
